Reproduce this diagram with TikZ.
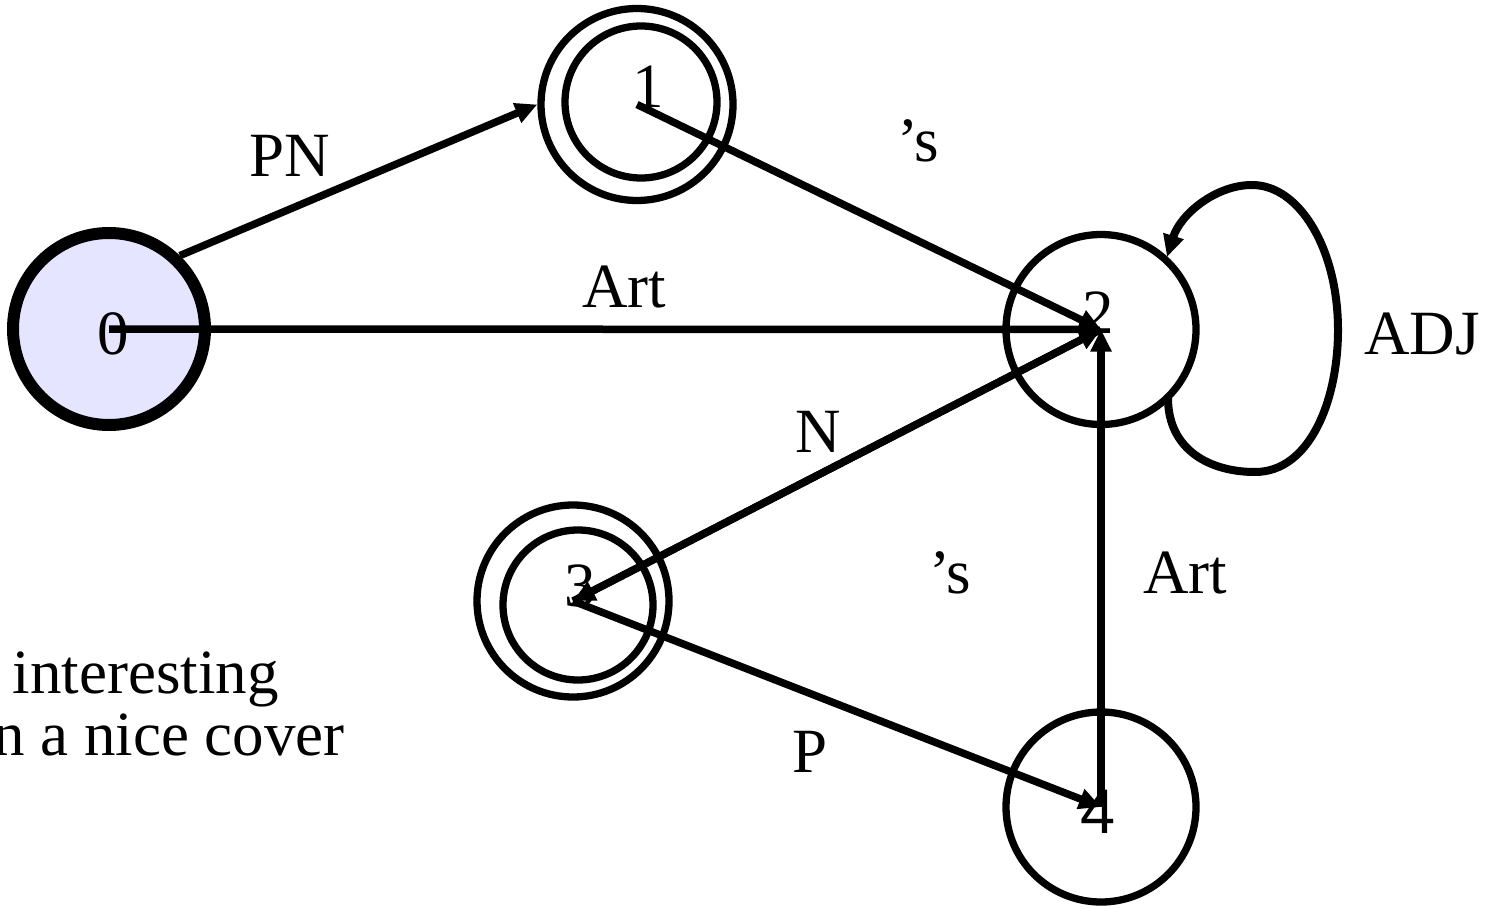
\documentclass[tikz,border=0pt]{standalone}
\usepackage{fontspec}
\setmainfont{Liberation Serif}
\newfontfamily\sansf{Liberation Sans}
\usetikzlibrary{arrows.meta}
\definecolor{lav}{RGB}{229,229,255}
\begin{document}
\begin{tikzpicture}[x=1pt,y=-1pt,
  state/.style={circle,draw,line width=7.3pt,inner sep=0pt,minimum size=190pt},
  edge/.style={line width=7.5pt,-{Triangle[length=22pt,width=20pt]}},
  lbl/.style={font=\fontsize{63}{75}\selectfont,inner sep=0pt,anchor=base},
  ]
\useasboundingbox (0,0) rectangle (1498,909);
% states
\node[state,fill=lav,line width=12pt,minimum size=192pt] (n0) at (109,329) {};
\node[state,minimum size=192pt] (n1) at (637,104.5) {};
\node[state,minimum size=152pt] (n1i) at (641,102) {};
\node[state] (n2) at (1101,329.5) {};
\node[state,minimum size=192pt] (n3) at (573,601) {};
\node[state,minimum size=150pt] (n3i) at (578,605) {};
\node[state] (n4) at (1101,807) {};
% state labels
\node[lbl] (d0) at (113,354) {0};
\node[lbl] (d1) at (648,108) {1};
\node[lbl] (d2) at (1098,333) {2};
\node[lbl] (d3) at (580,606) {3};
\node[lbl,font=\fontsize{63}{75}\selectfont\sansf] (d4) at (1098,833) {4};
% edges
\draw[edge] (n0.46) -- (n1.west);
\draw[edge] (n1.center) -- (n2.center);
\draw[edge] (n0.center) -- (n2.center);
\draw[edge] (n2.center) -- (n3.center);
\draw[edge] (n3.center) -- (n2.center);
\draw[edge] (n3.center) -- (n4.center);
\draw[edge] (n4.center) -- (n2.center);
\draw[edge,line width=8pt] (1168,398) .. controls (1168,450) and (1210,472) .. (1255,472)
  .. controls (1310,472) and (1338,400) .. (1338,330)
  .. controls (1338,250) and (1300,185) .. (1252,185)
  .. controls (1215,185) and (1180,215) .. (1167,257);
% edge labels
\node[lbl] (lPN) at (290,177) {PN};
\node[lbl] (ls1) at (918,162) {’s};
\node[lbl] (lArt1) at (624,307) {Art};
\node[lbl] (lADJ) at (1422,354) {ADJ};
\node[lbl] (lN) at (818,452) {N};
\node[lbl] (ls2) at (950,593) {’s};
\node[lbl] (lArt2) at (1185,593) {Art};
\node[lbl] (lP) at (810,772) {P};
% text
\node[lbl,anchor=base east] (t1) at (279,693) {interesting};
\node[lbl,anchor=base east] (t2) at (345,755) {n a nice cover};
\end{tikzpicture}
\end{document}
